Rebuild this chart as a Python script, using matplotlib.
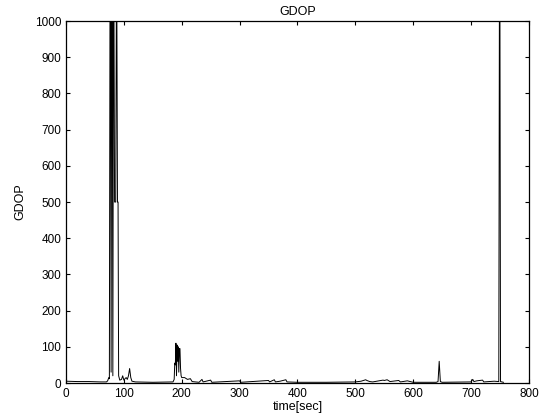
import matplotlib
matplotlib.use("Agg")
import matplotlib.pyplot as plt

# breakpoints of the GDOP curve
tempo = [0, 20, 40, 60, 70, 72, 74, 75, 76, 77, 78, 79, 80, 81, 82, 83, 84, 86,
         87, 88, 89, 90, 91, 93, 96, 98, 100, 102, 104, 106, 108, 110, 112, 114,
         120, 150, 185, 187, 188, 189, 190, 191, 192, 193, 194, 195, 196, 197,
         198, 199, 200, 205, 210, 215, 218, 230, 235, 237, 250, 252, 300, 302,
         350, 352, 360, 362, 370, 380, 382, 400, 450, 500, 510, 518, 520, 525,
         530, 548, 550, 555, 560, 575, 578, 590, 600, 640, 643, 645, 647, 650,
         700, 703, 705, 710, 720, 722, 740, 748, 749, 750, 751, 756]
gdop = [5, 4, 4, 3, 3, 6, 15, 12, 1000, 1000, 30, 1000, 1000, 20, 1000, 1000,
        500, 500, 1000, 1000, 500, 500, 20, 8, 10, 20, 8, 12, 15, 10, 20, 40,
        15, 5, 3, 2, 3, 10, 55, 50, 110, 20, 105, 60, 100, 30, 95, 95, 40, 20,
        15, 15, 10, 12, 4, 2, 10, 3, 8, 2, 6, 2, 7, 3, 9, 3, 5, 9, 3, 2, 2,
        3, 5, 9, 7, 4, 3, 8, 7, 9, 4, 7, 3, 6, 2, 2, 4, 60, 4, 2, 3, 10,
        4, 6, 8, 3, 5, 4, 1000, 1000, 4, 2]

xticks = [0, 100, 200, 300, 400, 500, 600, 700, 800]
yticks = [0, 100, 200, 300, 400, 500, 600, 700, 800, 900, 1000]

def main():
    plt.rcParams['font.family'] = ['Liberation Sans', 'DejaVu Sans']
    fig = plt.figure(figsize=(5.43, 4.18), dpi=100)
    ax = fig.add_axes([0.1215, 0.0837, 0.8525, 0.866])

    ax.plot(tempo, gdop, color='black', linewidth=0.7)

    ax.set_xlim(0, 800)
    ax.set_ylim(0, 1000)
    ax.set_xticks(xticks)
    ax.set_yticks(yticks)
    ax.tick_params(direction='in', top=True, right=True, labelsize=8.5,
                   length=3, width=0.8)
    for s in ax.spines.values():
        s.set_linewidth(0.9)

    ax.set_title('GDOP', fontsize=9, pad=4)
    ax.set_xlabel('time[sec]', fontsize=9, labelpad=1)
    ax.set_ylabel('GDOP', fontsize=9, labelpad=6)

    fig.savefig('out.png', dpi=100)

if __name__ == "__main__":
    main()
